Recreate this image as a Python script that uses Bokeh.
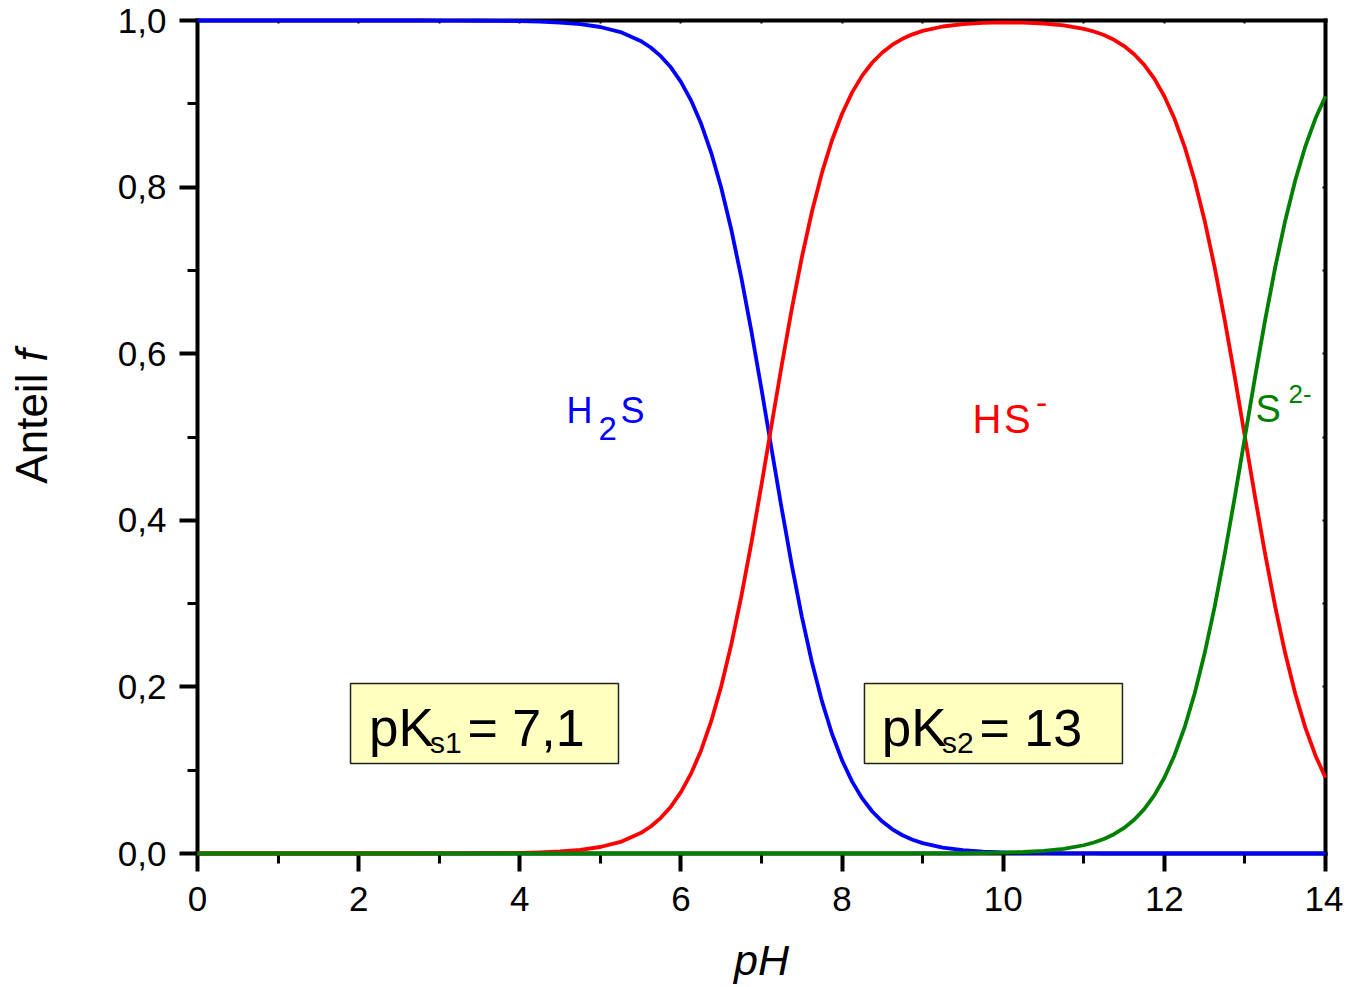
import math
from bokeh.plotting import figure
from bokeh.models import Label, BoxAnnotation, LinearAxis, FixedTicker
from bokeh.embed import file_html
from bokeh.resources import INLINE

# ---------------- data ----------------
ph = [0.0, 0.25, 0.5, 0.75, 1.0, 1.25, 1.5, 1.75, 2.0, 2.25, 2.5, 2.75,
      3.0, 3.25, 3.5, 3.75, 4.0, 4.25, 4.5, 4.75, 5.0, 5.25,
      5.5, 5.625, 5.75, 5.875, 6.0, 6.125, 6.25, 6.375, 6.5, 6.625, 6.75, 6.875,
      7.0, 7.125, 7.25, 7.375, 7.5, 7.625, 7.75, 7.875, 8.0, 8.125, 8.25, 8.375,
      8.5, 8.625, 8.75, 8.875,
      9.0, 9.25, 9.5, 9.75, 10.0, 10.25, 10.5, 10.75,
      11.0, 11.125, 11.25, 11.375, 11.5, 11.625, 11.75, 11.875, 12.0, 12.125,
      12.25, 12.375, 12.5, 12.625, 12.75, 12.875, 13.0, 13.125, 13.25, 13.375,
      13.5, 13.625, 13.75, 13.875, 14.0]

h2s = [1.0, 1.0, 1.0, 1.0, 1.0, 1.0, 1.0, 1.0, 1.0, 1.0, 1.0, 1.0,
       0.9999, 0.9999, 0.9997, 0.9996, 0.9992, 0.9986, 0.9975, 0.9956, 0.9922, 0.9861,
       0.9755, 0.9676, 0.9572, 0.9438, 0.9264, 0.9042, 0.8763, 0.8415, 0.7993, 0.7491, 0.6911, 0.6267,
       0.5573, 0.4856, 0.4145, 0.3468, 0.2847, 0.2299, 0.1829, 0.1437, 0.1118, 0.0863, 0.0661, 0.0504,
       0.0383, 0.0290, 0.0219, 0.0165,
       0.0124, 0.0070, 0.0040, 0.0022, 0.0013, 0.0007, 0.0004, 0.0002,
       0.0001, 0.0001, 0.0, 0.0, 0.0, 0.0, 0.0, 0.0, 0.0, 0.0,
       0.0, 0.0, 0.0, 0.0, 0.0, 0.0, 0.0, 0.0, 0.0, 0.0,
       0.0, 0.0, 0.0, 0.0, 0.0]

hs = [0.0, 0.0, 0.0, 0.0, 0.0, 0.0, 0.0, 0.0, 0.0, 0.0, 0.0, 0.0,
      0.0001, 0.0001, 0.0003, 0.0004, 0.0008, 0.0014, 0.0025, 0.0044, 0.0078, 0.0139,
      0.0245, 0.0324, 0.0428, 0.0562, 0.0736, 0.0958, 0.1237, 0.1585, 0.2007, 0.2509, 0.3089, 0.3733,
      0.4427, 0.5144, 0.5855, 0.6532, 0.7153, 0.7701, 0.8171, 0.8563, 0.8881, 0.9137, 0.9338, 0.9496,
      0.9616, 0.9710, 0.9780, 0.9834,
      0.9875, 0.9928, 0.9957, 0.9972, 0.9977, 0.9975, 0.9964, 0.9942,
      0.9900, 0.9868, 0.9825, 0.9768, 0.9693, 0.9595, 0.9468, 0.9302, 0.9091, 0.8823,
      0.8490, 0.8083, 0.7597, 0.7034, 0.6401, 0.5715, 0.5000, 0.4285, 0.3600, 0.2966,
      0.2403, 0.1917, 0.1510, 0.1177, 0.0909]

s2 = [0.0, 0.0, 0.0, 0.0, 0.0, 0.0, 0.0, 0.0, 0.0, 0.0, 0.0, 0.0,
      0.0, 0.0, 0.0, 0.0, 0.0, 0.0, 0.0, 0.0, 0.0, 0.0,
      0.0, 0.0, 0.0, 0.0, 0.0, 0.0, 0.0, 0.0, 0.0, 0.0, 0.0, 0.0,
      0.0, 0.0, 0.0, 0.0, 0.0, 0.0, 0.0, 0.0, 0.0, 0.0, 0.0, 0.0,
      0.0, 0.0, 0.0, 0.0,
      0.0001, 0.0002, 0.0003, 0.0006, 0.0010, 0.0018, 0.0032, 0.0056,
      0.0099, 0.0132, 0.0175, 0.0232, 0.0307, 0.0405, 0.0532, 0.0698, 0.0909, 0.1177,
      0.1510, 0.1917, 0.2403, 0.2966, 0.3599, 0.4285, 0.5000, 0.5715, 0.6400, 0.7034,
      0.7597, 0.8083, 0.8490, 0.8823, 0.9091]

x_ticks = [0, 2, 4, 6, 8, 10, 12, 14]
x_minor = [1, 3, 5, 7, 9, 11, 13]
x_tick_labels = ["0", "2", "4", "6", "8", "10", "12", "14"]
y_ticks = [0.0, 0.2, 0.4, 0.6, 0.8, 1.0]
y_minor = [0.1, 0.3, 0.5, 0.7, 0.9]
y_tick_labels = ["0,0", "0,2", "0,4", "0,6", "0,8", "1,0"]
top_ticks = [0, 1, 2, 3, 4, 5, 6, 7, 8, 9, 10, 11, 12, 13, 14]
right_ticks = [0.0, 0.1, 0.2, 0.3, 0.4, 0.5, 0.6, 0.7, 0.8, 0.9, 1.0]

FONT = "Liberation Sans"
BLUE, RED, GREEN = "#0000FF", "#FF0000", "#008000"

# frame fills the whole canvas; axes are pinned at the data edges
W, H = 1343, 985
PX_X = 1128 / 14.0      # pixels per pH unit
PX_Y = 833.0            # pixels per unit of f
p = figure(width=W, height=H,
           x_range=(-197 / PX_X, 14 + (W - 1325) / PX_X),
           y_range=(-(H - 853) / PX_Y, 1 + 20 / PX_Y),
           output_backend="svg", toolbar_location=None,
           x_axis_location=None, y_axis_location=None, min_border=0)
p.outline_line_color = None
p.xgrid.visible = False
p.ygrid.visible = False
p.background_fill_color = "white"
p.border_fill_color = "white"


def overrides(ticks, labels):
    return {float(t): l for t, l in zip(ticks, labels)}


def base_axis(ax):
    ax.axis_line_color = "black"
    ax.axis_line_width = 4
    ax.axis_line_cap = "square"
    ax.major_tick_line_color = "black"
    ax.minor_tick_line_color = "black"
    ax.major_label_text_font = FONT
    ax.major_label_text_color = "black"
    ax.major_label_text_font_size = "35px"


def outward(ax):
    ax.major_tick_out = 18
    ax.major_tick_in = 0
    ax.minor_tick_out = 10
    ax.minor_tick_in = 0
    ax.major_tick_line_width = 4
    ax.minor_tick_line_width = 3


def inward(ax):
    ax.major_tick_out = 0
    ax.major_tick_in = 0
    ax.minor_tick_out = 0
    ax.minor_tick_in = 3
    ax.minor_tick_line_width = 2


xb = LinearAxis(ticker=FixedTicker(ticks=x_ticks, minor_ticks=x_minor),
                major_label_overrides=overrides(x_ticks, x_tick_labels),
                fixed_location=0.0, bounds=(0, 14))
base_axis(xb); outward(xb)
xb.major_label_standoff = 15
yl = LinearAxis(ticker=FixedTicker(ticks=y_ticks, minor_ticks=y_minor),
                major_label_overrides=overrides(y_ticks, y_tick_labels),
                fixed_location=0.0, bounds=(0, 1))
base_axis(yl); outward(yl)
yl.major_label_standoff = 13
xt = LinearAxis(ticker=FixedTicker(ticks=[], minor_ticks=top_ticks),
                fixed_location=1.0, bounds=(0, 14))
base_axis(xt); inward(xt)
yr = LinearAxis(ticker=FixedTicker(ticks=[], minor_ticks=right_ticks),
                fixed_location=14.0, bounds=(0, 1))
base_axis(yr); inward(yr)
p.add_layout(xb, "below")
p.add_layout(yl, "left")
p.add_layout(xt, "above")
p.add_layout(yr, "right")

# curves
for ys, col in ((h2s, BLUE), (hs, RED), (s2, GREEN)):
    r = p.line(ph, ys, line_color=col, line_width=3.8, line_join="round")
    r.level = "overlay"

SHIFT = 0.37  # baseline correction (em)


def lab(x, y, t, size, color="black", style="normal", align="left", rotated=False):
    if rotated:
        x = x - SHIFT * size / PX_X
        ang = math.pi / 2
    else:
        y = y + SHIFT * size / PX_Y
        ang = 0.0
    p.add_layout(Label(x=x, y=y, text=t, text_font=FONT, text_font_size=f"{size}px",
                       text_color=color, text_font_style=style, angle=ang,
                       text_align=align, text_baseline="alphabetic"))


# axis titles
lab(7.0, -0.1465, "pH", 43, style="italic", align="center")
lab(-1.862, 0.444, "Anteil", 44, rotated=True)
lab(-1.862, 0.5906, "f", 44, style="italic", rotated=True)

# species labels
lab(4.58, 0.5162, "H", 36, BLUE)
lab(4.977, 0.4958, "2", 33, BLUE)
lab(5.25, 0.5162, "S", 36, BLUE)

lab(9.62, 0.504, "H", 40, RED)
lab(10.01, 0.504, "S", 40, RED)
lab(10.407, 0.5258, "-", 34, RED)

lab(13.13, 0.5162, "S", 38, GREEN)
lab(13.54, 0.5402, "2-", 26, GREEN)

# pKs boxes
for l, r_ in ((1.899, 5.225), (8.278, 11.480)):
    p.add_layout(BoxAnnotation(left=l, right=r_, bottom=0.108, top=0.2041,
                               fill_color="#FFFFC0", fill_alpha=1.0,
                               line_color="#222222", line_alpha=1.0, line_width=1.5))

lab(2.128, 0.1273, "pK", 53)
lab(2.886, 0.1200, "s1", 30)
lab(3.351, 0.1273, "= 7,1", 52)

lab(8.494, 0.1273, "pK", 53)
lab(9.240, 0.1200, "s2", 30)
lab(9.705, 0.1273, "= 13", 52)

open("out.html", "w").write(file_html(p, INLINE))
